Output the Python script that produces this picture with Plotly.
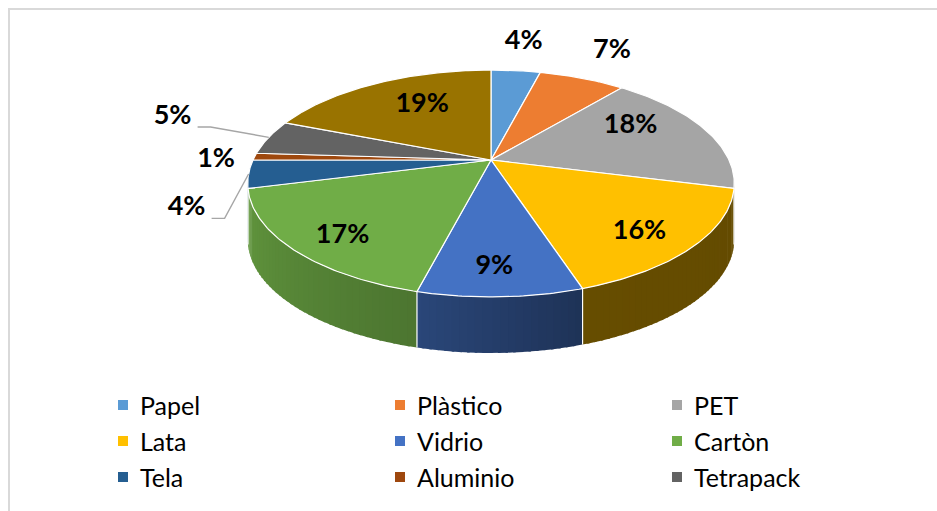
import numpy as np
import plotly.graph_objects as go

# ---------------- data ----------------
categories = ["Papel", "Plàstico", "PET", "Lata", "Vidrio", "Cartòn",
              "Tela", "Aluminio", "Tetrapack", "Otros"]
values = [4, 7, 18, 16, 9, 17, 4, 1, 5, 19]
pct_labels = [f"{v}%" for v in values]
legend_items = categories[:9]

# ---------------- style ----------------
colors = ["#5B9BD5", "#ED7D31", "#A5A5A5", "#FFC000", "#4472C4",
          "#70AD47", "#255E91", "#9E480E", "#636363", "#997300"]
# side shading factor (left end, right end) per slice
side_shade = [(0.75, 0.6), (0.75, 0.6), (0.5, 0.45), (0.40, 0.39), (0.62, 0.44),
              (0.87, 0.68), (0.82, 0.78), (0.8, 0.7), (0.8, 0.7), (0.6, 0.5)]
label_f = [1.41, 1.41, 0.71, 0.80, 0.82, 0.82, 1.24, 1.155, 1.52, 0.65]
label_dt = [0, 0, -10, 3.5, 1, -3.4, -12, -1.8, 3.9, 4.4]
has_leader = [False, False, False, False, False, False, True, False, True, False]

CX, CY, R, A, B, DEPTH = 491, 160, 238, 108.6, 0.207, 56
W, H = 937, 511
FONT = "Lato"


def proj(theta, f=1.0):
    t = np.radians(theta)
    u = f * np.sin(t)
    v = f * np.cos(t)
    s = 1.0 / (1.0 + B * v)
    return CX + R * u * s, CY - A * v * s


def shade(hex_color, k):
    h = hex_color.lstrip("#")
    r, g, b = (int(h[i:i + 2], 16) for i in (0, 2, 4))
    return "rgb(%d,%d,%d)" % (round(r * k), round(g * k), round(b * k))


total = float(sum(values))
bounds = np.concatenate([[0], np.cumsum(values)]) / total * 360.0

fig = go.Figure()

# ---------------- side walls (strips) ----------------
VIS_LO, VIS_HI = 100.5, 259.5
strips = []
step = 1.5
for i in range(len(values)):
    a0, a1 = bounds[i], bounds[i + 1]
    lo, hi = max(a0, VIS_LO), min(a1, VIS_HI)
    if hi <= lo:
        continue
    n = max(1, int(np.ceil((hi - lo) / step)))
    edges = np.linspace(lo, hi, n + 1)
    for j in range(n):
        s0, s1 = edges[j], min(edges[j + 1] + 0.5, hi)
        mid = 0.5 * (s0 + s1)
        t = (mid - a0) / (a1 - a0)  # 0 at right end (start), 1 at left end
        k = side_shade[i][1] + (side_shade[i][0] - side_shade[i][1]) * t
        strips.append((np.cos(np.radians(mid)), s0, s1, shade(colors[i], k)))

strips.sort(key=lambda s: -s[0])
for _, s0, s1, col in strips:
    th = np.linspace(s0, s1, 4)
    xt, yt = proj(th)
    xs = list(xt) + list(xt[::-1])
    ys = list(yt) + list((yt + DEPTH)[::-1])
    fig.add_trace(go.Scatter(x=xs, y=ys, mode="lines", fill="toself",
                             fillcolor=col, line=dict(width=0, color=col),
                             hoverinfo="skip", showlegend=False))

# boundaries on the side wall
for bnd in bounds[1:-1]:
    if VIS_LO < bnd < VIS_HI:
        x0, y0 = proj(bnd)
        fig.add_trace(go.Scatter(x=[x0, x0], y=[y0, y0 + DEPTH], mode="lines",
                                 line=dict(color="white", width=1.2),
                                 hoverinfo="skip", showlegend=False))

# ---------------- top faces ----------------
for i in range(len(values)):
    a0, a1 = bounds[i], bounds[i + 1]
    n = max(3, int((a1 - a0) / 0.75) + 2)
    th = np.linspace(a0, a1, n)
    xa, ya = proj(th)
    xs = [CX] + list(xa) + [CX]
    ys = [CY] + list(ya) + [CY]
    fig.add_trace(go.Scatter(x=xs, y=ys, mode="lines", fill="toself",
                             fillcolor=colors[i], line=dict(color="white", width=1.2),
                             name=categories[i], hoverinfo="name", showlegend=False))

# ---------------- data labels ----------------
lx, ly = [], []
for i in range(len(values)):
    mid = 0.5 * (bounds[i] + bounds[i + 1]) + label_dt[i]
    x, y = proj(mid, label_f[i])
    lx.append(float(x))
    ly.append(float(y))
    if has_leader[i]:
        ex, ey = proj(0.5 * (bounds[i] + bounds[i + 1]), 1.0)
        fig.add_trace(go.Scatter(x=[x + 25, x + 38, float(ex)], y=[y + 10, y + 10, float(ey)],
                                 mode="lines", line=dict(color="#A6A6A6", width=1.4),
                                 hoverinfo="skip", showlegend=False))

fig.add_trace(go.Scatter(x=lx, y=ly, mode="text", text=pct_labels,
                         textposition="middle center",
                         textfont=dict(family=FONT, size=27, color="black", weight="bold"),
                         hoverinfo="skip", showlegend=False))

# ---------------- legend ----------------
col_x = [123, 400, 677]
row_y = [405, 441, 477]
mx, my = [], []
for k, name in enumerate(legend_items):
    x = col_x[k % 3]
    y = row_y[k // 3]
    mx.append(x)
    my.append(y)
    fig.add_annotation(x=x + 15, y=y, text=name, showarrow=False,
                       xanchor="left", yanchor="middle",
                       font=dict(family=FONT, size=25, color="black"))
fig.add_trace(go.Scatter(x=mx, y=my, mode="markers",
                         marker=dict(symbol="square", size=10, color=colors[:9],
                                     line=dict(width=0)),
                         hoverinfo="skip", showlegend=False))

# ---------------- layout ----------------
fig.add_shape(type="rect", x0=9, y0=9, x1=W + 20, y1=H + 20,
              line=dict(color="#D9D9D9", width=2), layer="below")
fig.update_layout(
    width=W, height=H,
    margin=dict(l=0, r=0, t=0, b=0),
    paper_bgcolor="white", plot_bgcolor="white",
    showlegend=False,
    xaxis=dict(range=[0, W], visible=False, fixedrange=True),
    yaxis=dict(range=[H, 0], visible=False, fixedrange=True),
)

fig.write_html("out.html")
